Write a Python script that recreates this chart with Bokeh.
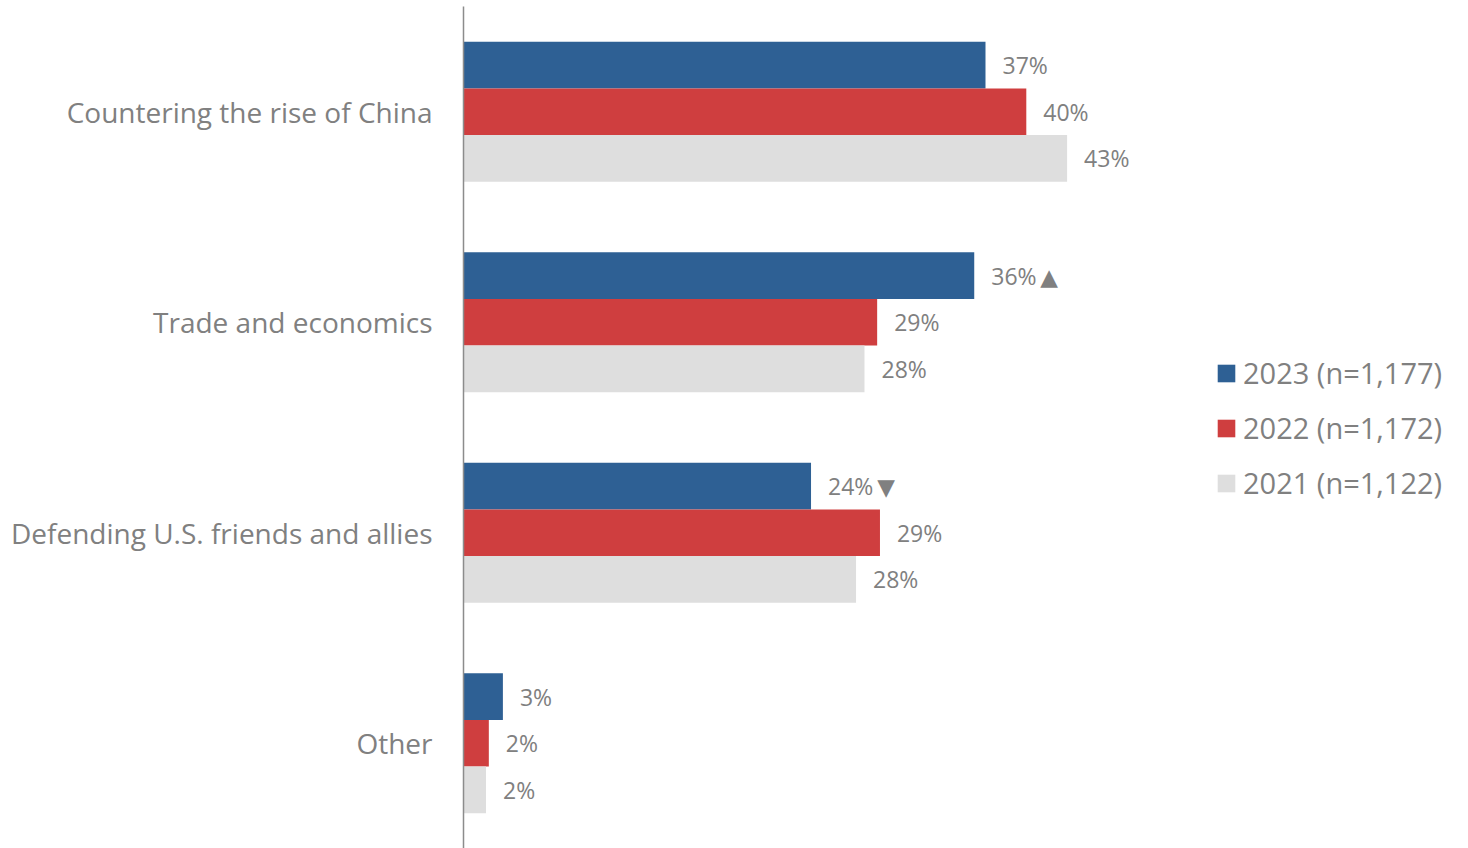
from bokeh.plotting import figure
from bokeh.models import ColumnDataSource, FactorRange, Range1d, Legend, LegendItem
from bokeh.transform import dodge
from bokeh.core.properties import value
from bokeh.embed import file_html
from bokeh.resources import INLINE

categories = ["Countering the rise of China", "Trade and economics",
              "Defending U.S. friends and allies", "Other"]
series_names = ["2023 (n=1,177)", "2022 (n=1,172)", "2021 (n=1,122)"]
values_2023 = [37.1, 36.3, 24.7, 2.8]
values_2022 = [40.0, 29.4, 29.6, 1.8]
values_2021 = [42.9, 28.5, 27.9, 1.6]
labels_2023 = ["37%", "36%", "24%", "3%"]
labels_2022 = ["40%", "29%", "29%", "2%"]
labels_2021 = ["43%", "28%", "28%", "2%"]
marks_2023 = ["", "\u2009\u25B2", "\u2009\u25BC", ""]
colors = ["#2E6094", "#CF3E3F", "#DEDEDE"]

FONT = "Open Sans"
LABEL_FONT = "Open Sans, DejaVu Sans"
TEXT_COLOR = "#808080"

p = figure(width=1460, height=848, output_backend="svg", toolbar_location=None,
           y_range=FactorRange(factors=list(reversed(categories)), range_padding=0),
           x_range=Range1d(0, 70.86),
           min_border_left=463, min_border_right=0, min_border_top=6, min_border_bottom=0)

p.xaxis.visible = False
p.xgrid.visible = False
p.ygrid.visible = False
p.outline_line_color = None

yax = p.yaxis[0]
yax.axis_line_color = "#8C8C8C"
yax.axis_line_width = 1.5
yax.major_tick_line_color = None
yax.minor_tick_line_color = None
yax.major_label_standoff = 25
yax.major_label_text_font = FONT
yax.major_label_text_font_size = "28px"
yax.major_label_text_color = TEXT_COLOR

bar_h = 0.222
offsets = [bar_h, 0.0, -bar_h]
series_values = [values_2023, values_2022, values_2021]
series_labels = [
    [l + m for l, m in zip(labels_2023, marks_2023)],
    labels_2022,
    labels_2021,
]

items = []
for name, vals, labs, col, off in zip(series_names, series_values, series_labels, colors, offsets):
    src = ColumnDataSource(dict(cat=categories, val=vals, lab=labs))
    r = p.hbar(y=dodge("cat", off, range=p.y_range), right="val", left=0, height=bar_h,
               source=src, fill_color=col, line_color=None)
    p.text(x="val", y=dodge("cat", off, range=p.y_range), text="lab", source=src,
           x_offset=17, text_align="left", text_baseline="middle",
           text_font=value(LABEL_FONT), text_font_size="23px", text_color=TEXT_COLOR)
    items.append(LegendItem(label=name, renderers=[r]))

legend = Legend(items=items, location=(752, 346),
                glyph_width=22, glyph_height=22, label_standoff=6,
                spacing=16, padding=0, margin=0,
                border_line_color=None, background_fill_alpha=0,
                label_text_font=FONT, label_text_font_size="29px",
                label_text_color=TEXT_COLOR)
p.add_layout(legend)

open("out.html", "w").write(file_html(p, INLINE))
